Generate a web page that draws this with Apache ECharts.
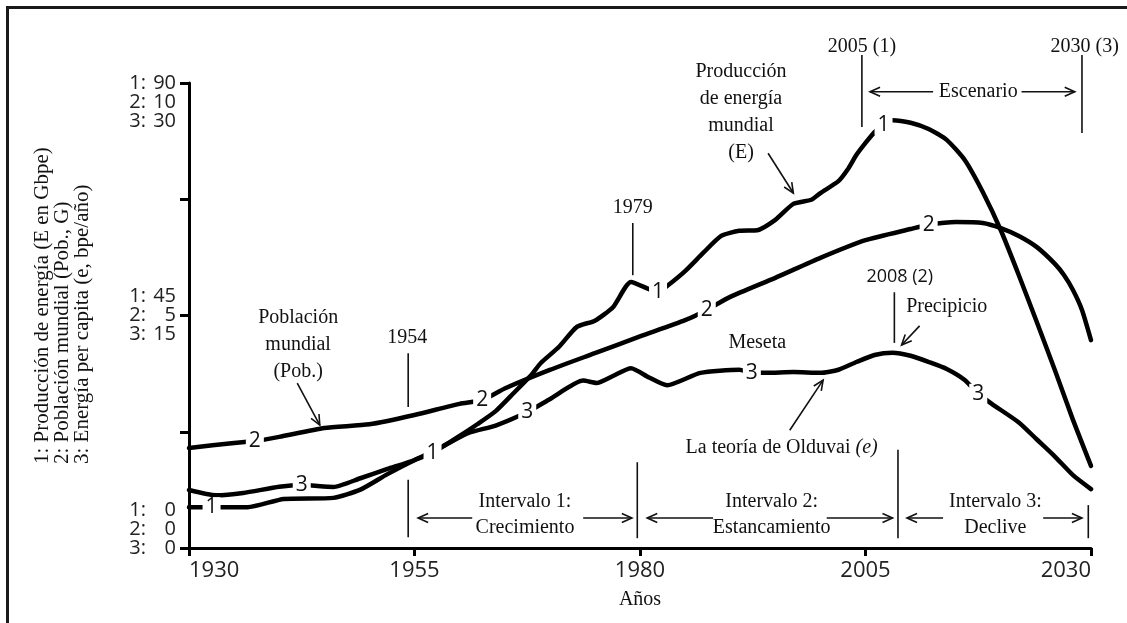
<!DOCTYPE html>
<html><head><meta charset="utf-8">
<script src="https://cdn.jsdelivr.net/npm/echarts@6/dist/echarts.min.js"></script>
<style>html,body{margin:0;padding:0;background:#fff}#c{width:1127px;height:623px}</style>
</head><body><div id="c"></div>
<script>
// ---- data ----
const xTicks = [1930, 1955, 1980, 2005, 2030];
const yTickValues = [0, 22.5, 45, 67.5, 90];
const yLabelValues = [0, 45, 90];
const yLabels1 = ['0', '45', '90'];
const yLabels2 = ['0', '5', '10'];
const yLabels3 = ['0', '15', '30'];

// 1: Producción de energía (Gbpe)
const years1 = [1930,1932.5,1936.5,1940.5,1946,1949,1952,1955,1957,1960,1962,1964,1966,1968,1969,1971,1973,1975,1977,1979,1981,1982,1983,1985,1987,1989,1991,1993,1995,1997,1999,2000,2002,2003,2004,2005,2006,2007,2008,2010,2012,2014,2016,2018,2020,2022,2024,2026,2028,2030];
const energy = [7.9,7.9,7.9,9.5,9.7,11.3,14.3,17.0,18.4,21.7,24.0,26.5,30.0,33.6,35.8,38.9,42.8,44.0,46.6,51.5,50.1,49.5,50.7,53.6,57.1,60.4,61.4,61.5,63.5,66.6,67.4,68.7,71.0,73.2,76.1,78.4,80.5,81.9,82.8,82.3,81.1,79.0,75.1,68.9,61.5,52.8,43.7,34.4,24.8,15.9];
const labelYears1 = [1932.5, 1957, 1982, 2007];

// 2: Población mundial (G)
const years2 = [1930,1935,1937.3,1940,1945,1950,1955,1960,1962.5,1965,1970,1975,1980,1985,1987.4,1990,1995,2000,2005,2010,2012,2015,2018,2020,2022,2024,2026,2027,2028,2029,2030];
const population = [2.15,2.26,2.30,2.39,2.58,2.66,2.86,3.10,3.18,3.43,3.83,4.19,4.55,4.90,5.12,5.40,5.81,6.24,6.62,6.86,6.95,7.01,6.99,6.88,6.71,6.47,6.11,5.87,5.55,5.12,4.47];
const labelYears2 = [1937.3, 1962.5, 1987.4, 2012];

// 3: Energía per capita (bpe/año)
const years3 = [1930,1933,1936,1940,1942.5,1946,1949,1952,1955,1958,1961,1964,1967.5,1970,1973.7,1975.2,1977,1979,1981,1983,1986.7,1991,1992.4,1994,1997,2000,2002,2004,2006,2008,2010,2012,2014,2016,2017.5,2019,2022,2024,2026,2028,2030];
const perCapita = [3.74,3.4,3.55,3.95,4.06,3.94,4.5,5.1,5.68,6.52,7.42,7.9,8.77,9.6,10.8,10.65,11.1,11.6,11.0,10.5,11.3,11.5,11.3,11.3,11.35,11.3,11.5,12.0,12.45,12.6,12.4,12.0,11.55,10.84,9.95,9.3,8.1,7.0,5.9,4.7,3.8];
const labelYears3 = [1942.5, 1967.5, 1992.4, 2017.5];

// annotations (coordinates in year / scale-1 units)
const noteTexts = ['1954','1979','2005 (1)','2030 (3)','Escenario','Producción\nde energía\nmundial\n(E)','Población\nmundial\n(Pob.)','Meseta','2008 (2)','Precipicio','La teoría de Olduvai {i|(e)}','Intervalo 1:\nCrecimiento','Intervalo 2:\nEstancamiento','Intervalo 3:\nDeclive'];
const noteYears = [1954.2,1979.2,2004.6,2029.3,2017.5,1991.2,1942.1,1993.0,2008.8,2014.0,1995.7,1967.25,1994.6,2019.4];
const noteValues = [40.6,65.8,97.0,97.0,88.3,84.4,39.3,39.7,52.5,46.6,19.4,6.4,6.4,6.4];
const markerYears = [1954.3,1979.2,2004.6,2029.0,2008.2,1954.3,1979.7,2008.6,2029.7];
const markerFrom = [37.7,62.9,95.4,95.4,49.5,13.2,16.6,19.0,8.3];
const markerTo = [27.3,52.8,81.5,80.3,39.7,2.1,1.9,1.9,1.9];
const arrowFrom = [[1961.4,5.8],[1973.7,5.8],[1988.1,5.8],[2000.7,5.8],[2013.6,5.8],[2024.7,5.8],[2012.5,88.3],[2022.3,88.3],[1942.0,31.9],[1994.2,76.4],[2011.0,43.0],[1996.6,22.8]];
const arrowTo = [[1955.4,5.8],[1979.1,5.8],[1980.8,5.8],[2008.0,5.8],[2009.6,5.8],[2029.0,5.8],[2005.5,88.3],[2028.2,88.3],[1944.5,23.8],[1997.0,68.7],[2009.0,39.3],[2000.3,32.5]];
const yTitle = '1: Producción de energía (E en Gbpe)\n2: Población mundial (Pob., G)\n3: Energía per capita (e, bpe/año)';

// ---- chart ----
const zip = (xs, ys) => xs.map((x, i) => [x, ys[i]]);
const pick = (xs, ys, sel) => sel.map(y => [y, ys[xs.indexOf(y)]]);
const SANS = 'Open Sans';
const SERIF = 'Liberation Serif';

const chart = echarts.init(document.getElementById('c'), null, {renderer: 'canvas'});
const lineSeries = (data, axis) => ({
  type: 'line', data, yAxisIndex: axis, showSymbol: false, smooth: 0.2, z: 2,
  lineStyle: {color: '#000', width: 4.5, cap: 'round', join: 'round'}, animation: false
});
const labelSeries = (data, axis, txt) => ({
  type: 'scatter', data, yAxisIndex: axis, symbolSize: 1, z: 5, animation: false,
  itemStyle: {color: 'rgba(255,255,255,0)', opacity: 1},
  label: {show: true, position: 'inside', formatter: txt, color: '#111', fontFamily: SANS, fontSize: 21,
    backgroundColor: '#fff', padding: [0, 3, 0, 3], lineHeight: 20}
});

const yLabelRich = {
  k: {fontFamily: SANS, fontSize: 20, lineHeight: 19, color: '#222'},
  n: {fontFamily: SANS, fontSize: 20, lineHeight: 19, color: '#222', width: 30, align: 'right'}
};

const option = {
  backgroundColor: '#fff',
  animation: false,
  grid: {left: 189, right: 36, top: 83, bottom: 75, containLabel: false},
  xAxis: {
    type: 'value', min: 1930, max: 2030,
    name: 'Años', nameLocation: 'middle', nameGap: 42,
    nameTextStyle: {fontFamily: SERIF, fontSize: 20, color: '#111'},
    axisLine: {lineStyle: {color: '#000', width: 3}},
    axisTick: {show: true, customValues: xTicks, length: 8, lineStyle: {color: '#000', width: 3}},
    axisLabel: {customValues: xTicks, margin: 12, fontFamily: SANS, fontSize: 22, color: '#222',
      alignMinLabel: 'left', alignMaxLabel: 'right', formatter: v => String(v)},
    splitLine: {show: false}
  },
  yAxis: [
    {type: 'value', min: 0, max: 90,
      axisLine: {show: true, lineStyle: {color: '#000', width: 3}},
      axisTick: {show: true, customValues: yTickValues, length: 9, lineStyle: {color: '#000', width: 3}},
      axisLabel: {customValues: yLabelValues, margin: 13, rich: yLabelRich,
        formatter: function (v) {
          const i = yLabelValues.indexOf(v);
          if (i < 0) return '';
          let lines = ['{k|1:}{n|' + yLabels1[i] + '}', '{k|2:}{n|' + yLabels2[i] + '}', '{k|3:}{n|' + yLabels3[i] + '}'];
          if (i === 2) lines = ['{k| }', '{k| }'].concat(lines);
          if (i === 0) lines = lines.concat(['{k| }', '{k| }']);
          return lines.join('\n');
        }},
      splitLine: {show: false}},
    {type: 'value', min: 0, max: 10, show: false, splitLine: {show: false}},
    {type: 'value', min: 0, max: 30, show: false, splitLine: {show: false}}
  ],
  series: [
    lineSeries(zip(years2, population), 1),
    lineSeries(zip(years3, perCapita), 2),
    lineSeries(zip(years1, energy), 0),
    labelSeries(pick(years1, energy, labelYears1), 0, '1'),
    labelSeries(pick(years2, population, labelYears2), 1, '2'),
    labelSeries(pick(years3, perCapita, labelYears3), 2, '3')
  ]
};
chart.setOption(option);

// ---- annotations through the axes' scale ----
const px = (yr, v) => chart.convertToPixel({xAxisIndex: 0, yAxisIndex: 0}, [yr, v]);
const graphics = [];
graphics.push({type: 'rect', shape: {x: 7.5, y: 7.5, width: 1300, height: 800},
  style: {fill: 'none', stroke: '#1a1a1a', lineWidth: 3}, silent: true});
graphics.push({type: 'text', x: 62, y: 464, rotation: Math.PI / 2,
  style: {text: yTitle, font: '21px "' + SERIF + '"', fill: '#111', textAlign: 'left', textVerticalAlign: 'middle', lineHeight: 20}});
noteTexts.forEach((t, i) => {
  const p = px(noteYears[i], noteValues[i]);
  const isSans = t.indexOf('2008') === 0;
  graphics.push({type: 'text', x: p[0], y: p[1], z: 10,
    style: {text: t, font: (isSans ? '18px "' + SANS + '"' : '20px "' + SERIF + '"'), fill: '#111',
      textAlign: 'center', textVerticalAlign: 'middle', lineHeight: t.indexOf('Intervalo') === 0 ? 26 : 27,
      rich: {i: {fontStyle: 'italic', fontFamily: SERIF, fontSize: 20}}}});
});
markerYears.forEach((yr, i) => {
  const a = px(yr, markerFrom[i]), b = px(yr, markerTo[i]);
  graphics.push({type: 'line', shape: {x1: a[0], y1: a[1], x2: b[0], y2: b[1]}, style: {stroke: '#111', lineWidth: 1.6}});
});
arrowFrom.forEach((f, i) => {
  const a = px(f[0], f[1]), b = px(arrowTo[i][0], arrowTo[i][1]);
  const ang = Math.atan2(b[1] - a[1], b[0] - a[0]);
  const L = 11, w = 0.42;
  const w1 = [b[0] - L * Math.cos(ang - w), b[1] - L * Math.sin(ang - w)];
  const w2 = [b[0] - L * Math.cos(ang + w), b[1] - L * Math.sin(ang + w)];
  graphics.push({type: 'line', shape: {x1: a[0], y1: a[1], x2: b[0], y2: b[1]}, style: {stroke: '#111', lineWidth: 1.6}});
  graphics.push({type: 'polyline', shape: {points: [w1, b, w2]}, style: {stroke: '#111', fill: 'none', lineWidth: 1.6}});
});
chart.setOption({graphic: graphics});
</script></body></html>
